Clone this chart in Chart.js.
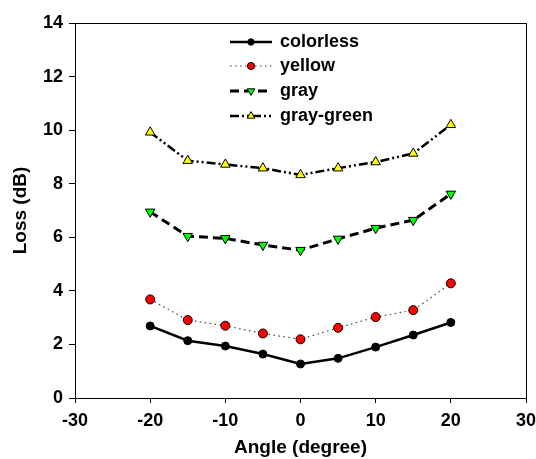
<!DOCTYPE html>
<html><head><meta charset="utf-8">
<script src="https://cdn.jsdelivr.net/npm/chart.js@4.4.1/dist/chart.umd.min.js"></script>
<style>html,body{margin:0;padding:0;background:#fff}#wrap{width:536px;height:459px}</style>
</head><body><div id="wrap"><canvas id="c" width="536" height="459"></canvas></div>
<script>
const angles = [-20, -15, -10, -5, 0, 5, 10, 15, 20];
const colorless = [2.69, 2.14, 1.94, 1.64, 1.27, 1.48, 1.90, 2.35, 2.82];
const yellow = [3.68, 2.91, 2.70, 2.41, 2.19, 2.62, 3.02, 3.28, 4.28];
const gray = [6.95, 6.04, 5.96, 5.71, 5.52, 5.94, 6.34, 6.64, 7.62];
const grayGreen = [9.92, 8.86, 8.72, 8.58, 8.33, 8.58, 8.81, 9.13, 10.2];
const seriesNames = ['colorless', 'yellow', 'gray', 'gray-green'];
const xTicks = [-30, -20, -10, 0, 10, 20, 30];
const yTicks = [0, 2, 4, 6, 8, 10, 12, 14];

const pts = arr => angles.map((a, i) => ({x: a, y: arr[i]}));
const FONT = "'Liberation Sans', Arial, sans-serif";

const datasets = [
  {label: seriesNames[0], data: pts(colorless), borderColor: '#000', borderWidth: 2.5, borderDash: [],
   pointStyle: 'circle', pointRadius: 4, pointBackgroundColor: '#000', pointBorderColor: '#000', pointBorderWidth: 1},
  {label: seriesNames[1], data: pts(yellow), borderColor: '#444', borderWidth: 1.2, borderDash: [1.5, 3.5],
   pointStyle: 'circle', pointRadius: 4.5, pointBackgroundColor: '#ff0000', pointBorderColor: '#000', pointBorderWidth: 1},
  {label: seriesNames[2], data: pts(gray), borderColor: '#000', borderWidth: 3, borderDash: [9, 5],
   pointStyle: 'triangle', rotation: 180, pointRadius: 5.5, pointBackgroundColor: '#00ff00', pointBorderColor: '#000', pointBorderWidth: 1},
  {label: seriesNames[3], data: pts(grayGreen), borderColor: '#000', borderWidth: 2.5, borderDash: [9, 3, 2, 3, 2, 3],
   pointStyle: 'triangle', pointRadius: 5.5, pointBackgroundColor: '#ffff00', pointBorderColor: '#000', pointBorderWidth: 1}
];
datasets.forEach(d => { d.fill = false; d.tension = 0; d.showLine = true; });

const framePlugin = {
  id: 'frame',
  afterDraw(chart) {
    const ctx = chart.ctx;
    const a = chart.chartArea;
    ctx.save();
    ctx.strokeStyle = '#000'; ctx.lineWidth = 1;
    ctx.strokeRect(a.left + 0.5, a.top + 0.5, a.right - a.left, a.bottom - a.top);
    const rows = [42, 66, 91, 116];
    const x0 = 230, x1 = 272, tx = 280;
    chart.data.datasets.forEach((d, i) => {
      const y = rows[i];
      ctx.save();
      ctx.strokeStyle = d.borderColor; ctx.lineWidth = d.borderWidth;
      ctx.setLineDash(d.borderDash);
      ctx.beginPath(); ctx.moveTo(x0, y); ctx.lineTo(x1, y); ctx.stroke();
      ctx.restore();
      ctx.save();
      ctx.fillStyle = d.pointBackgroundColor; ctx.strokeStyle = d.pointBorderColor; ctx.lineWidth = 1;
      ctx.setLineDash([]);
      Chart.helpers.drawPoint(ctx, {pointStyle: d.pointStyle, rotation: d.rotation || 0, radius: d.pointRadius * 0.8, borderWidth: 1},
        (x0 + x1) / 2, y);
      ctx.restore();
      ctx.fillStyle = '#000';
      ctx.font = "bold 18px " + FONT;
      ctx.textBaseline = 'middle'; ctx.textAlign = 'left';
      ctx.fillText(d.label, tx, y);
    });
    ctx.restore();
  }
};

new Chart(document.getElementById('c'), {
  type: 'scatter',
  data: {datasets},
  options: {
    responsive: false, animation: false, devicePixelRatio: 1,
    layout: {padding: {left: 0, top: 23, right: 5, bottom: 0}},
    plugins: {legend: {display: false}, tooltip: {enabled: false}},
    scales: {
      x: {
        type: 'linear', min: -30, max: 30,
        afterBuildTicks: s => { s.ticks = xTicks.map(v => ({value: v})); },
        afterFit: s => { s.height = 61; s.paddingRight = 10; },
        grid: {display: true, drawOnChartArea: false, drawTicks: true, tickLength: 5, color: '#000', tickColor: '#000'},
        border: {display: true, color: '#000', width: 1},
        ticks: {color: '#000', font: {family: FONT, size: 18, weight: 'bold'}, padding: 7, maxRotation: 0},
        title: {display: true, text: 'Angle (degree)', color: '#000', font: {family: FONT, size: 19, weight: 'bold'}, padding: {top: 0, bottom: 0}}
      },
      y: {
        type: 'linear', min: 0, max: 14,
        afterBuildTicks: s => { s.ticks = yTicks.map(v => ({value: v})); },
        afterFit: s => { s.width = 75; },
        grid: {display: true, drawOnChartArea: false, drawTicks: true, tickLength: 6, color: '#000', tickColor: '#000'},
        border: {display: true, color: '#000', width: 1},
        ticks: {color: '#000', font: {family: FONT, size: 18, weight: 'bold'}, padding: 6},
        title: {display: true, text: 'Loss (dB)', color: '#000', font: {family: FONT, size: 19, weight: 'bold'}, padding: {top: 9, bottom: 0}}
      }
    }
  },
  plugins: [framePlugin]
});
</script></body></html>
